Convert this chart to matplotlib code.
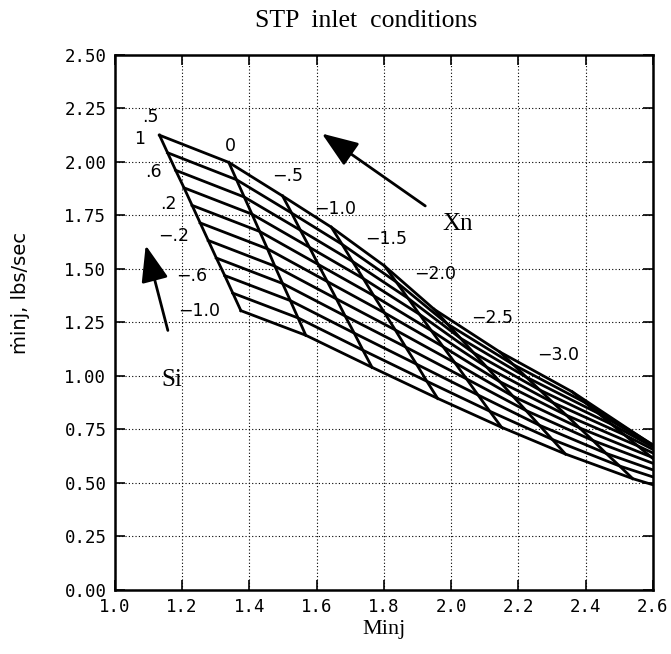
import matplotlib
matplotlib.use("Agg")
import matplotlib.pyplot as plt
import numpy as np

# carpet plot: one row per Si value, one column per Xn value
xn_vals = [0.5, 0.0, -0.5, -1.0, -1.5, -2.0, -2.5, -3.0, -3.5]
si_vals = [1.0, 0.8, 0.6, 0.4, 0.2, 0.0, -0.2, -0.4, -0.6, -0.8, -1.0]

minj = [
    [1.133, 1.339, 1.499, 1.644, 1.802, 1.950, 2.145, 2.360, 2.620],
    [1.157, 1.362, 1.526, 1.676, 1.837, 1.989, 2.185, 2.399, 2.656],
    [1.181, 1.385, 1.552, 1.707, 1.872, 2.028, 2.224, 2.438, 2.692],
    [1.206, 1.408, 1.579, 1.739, 1.906, 2.067, 2.264, 2.477, 2.728],
    [1.230, 1.431, 1.605, 1.770, 1.941, 2.106, 2.303, 2.516, 2.764],
    [1.254, 1.454, 1.632, 1.802, 1.976, 2.145, 2.343, 2.555, 2.800],
    [1.278, 1.476, 1.659, 1.834, 2.011, 2.184, 2.382, 2.594, 2.836],
    [1.302, 1.499, 1.685, 1.865, 2.046, 2.223, 2.422, 2.633, 2.872],
    [1.327, 1.522, 1.712, 1.897, 2.080, 2.262, 2.461, 2.672, 2.908],
    [1.351, 1.545, 1.738, 1.928, 2.115, 2.301, 2.501, 2.711, 2.944],
    [1.375, 1.568, 1.765, 1.960, 2.150, 2.340, 2.540, 2.750, 2.980],
]
mdot = [
    [2.125, 1.998, 1.841, 1.695, 1.514, 1.311, 1.112, 0.926, 0.655],
    [2.043, 1.917, 1.761, 1.615, 1.439, 1.243, 1.053, 0.875, 0.623],
    [1.961, 1.836, 1.681, 1.535, 1.363, 1.176, 0.994, 0.825, 0.590],
    [1.879, 1.756, 1.601, 1.455, 1.288, 1.108, 0.934, 0.774, 0.558],
    [1.797, 1.675, 1.521, 1.375, 1.212, 1.041, 0.875, 0.724, 0.525],
    [1.715, 1.594, 1.441, 1.295, 1.137, 0.973, 0.816, 0.673, 0.493],
    [1.633, 1.513, 1.360, 1.215, 1.062, 0.905, 0.757, 0.622, 0.460],
    [1.551, 1.432, 1.280, 1.135, 0.986, 0.838, 0.698, 0.572, 0.428],
    [1.469, 1.352, 1.200, 1.055, 0.911, 0.770, 0.638, 0.521, 0.395],
    [1.387, 1.271, 1.120, 0.975, 0.835, 0.703, 0.579, 0.471, 0.363],
    [1.305, 1.190, 1.040, 0.895, 0.760, 0.635, 0.520, 0.420, 0.330],
]

xn_labels = [".5", "0", "−.5", "−1.0", "−1.5", "−2.0", "−2.5", "−3.0"]
xn_lab_x = [1.105, 1.344, 1.514, 1.654, 1.808, 1.953, 2.123, 2.317]
xn_lab_y = [2.208, 2.076, 1.935, 1.779, 1.639, 1.475, 1.272, 1.10]

si_labels = ["1", ".6", ".2", "−.2", "−.6", "−1.0"]
si_lab_x = [1.075, 1.115, 1.16, 1.175, 1.23, 1.25]
si_lab_y = [2.107, 1.951, 1.802, 1.654, 1.467, 1.303]

xticks = [1.0, 1.2, 1.4, 1.6, 1.8, 2.0, 2.2, 2.4, 2.6]
yticks = [0.0, 0.25, 0.5, 0.75, 1.0, 1.25, 1.5, 1.75, 2.0, 2.25, 2.5]

M = np.array(minj)
m = np.array(mdot)

fig = plt.figure(figsize=(6.71, 6.54), dpi=100)
ax = fig.add_axes([0.171, 0.098, 0.802, 0.818])

for i in range(len(si_vals)):
    ax.plot(M[i], m[i], color="k", lw=2.0)
for j in range(len(xn_vals)):
    ax.plot(M[:, j], m[:, j], color="k", lw=2.0)

ax.set_xlim(1.0, 2.6)
ax.set_ylim(0.0, 2.5)
ax.set_xticks(xticks)
ax.set_yticks(yticks)
ax.set_xticklabels(["%.1f" % v for v in xticks], family="DejaVu Sans Mono")
ax.set_yticklabels(["%.2f" % v for v in yticks], family="DejaVu Sans Mono")
ax.tick_params(direction="in", top=True, right=True, length=7, width=1.2,
               labelsize=12.5, pad=6)
ax.grid(True, color="k", lw=0.8, linestyle=(0, (1, 2)))
for s in ax.spines.values():
    s.set_linewidth(1.8)

ax.set_xlabel("Minj", family="Liberation Serif", fontsize=16, labelpad=3)
ax.set_ylabel("ṁinj, lbs/sec", fontsize=14)
ax.yaxis.set_label_coords(-0.158, 0.555)
fig.text(0.545, 0.968, "STP  inlet  conditions", family="Liberation Serif",
         fontsize=18.5, ha="center", va="center")

for s, x, y in zip(xn_labels, xn_lab_x, xn_lab_y):
    ax.text(x, y, s, fontsize=12.5, ha="center", va="center")
for s, x, y in zip(si_labels, si_lab_x, si_lab_y):
    ax.text(x, y, s, fontsize=12.5, ha="center", va="center")

ax.annotate("", xy=(1.609, 2.14), xytext=(1.93, 1.787),
            arrowprops=dict(arrowstyle="-|>,head_length=0.8,head_width=0.3",
                            lw=2, color="k", mutation_scale=28))
ax.text(2.02, 1.709, "Xn", family="Liberation Serif", fontsize=18,
        ha="center", va="center")
ax.annotate("", xy=(1.09, 1.623), xytext=(1.16, 1.20),
            arrowprops=dict(arrowstyle="-|>,head_length=0.8,head_width=0.3",
                            lw=2, color="k", mutation_scale=28))
ax.text(1.17, 0.98, "Si", family="Liberation Serif", fontsize=18,
        ha="center", va="center")

fig.savefig("out.png", dpi=100)
